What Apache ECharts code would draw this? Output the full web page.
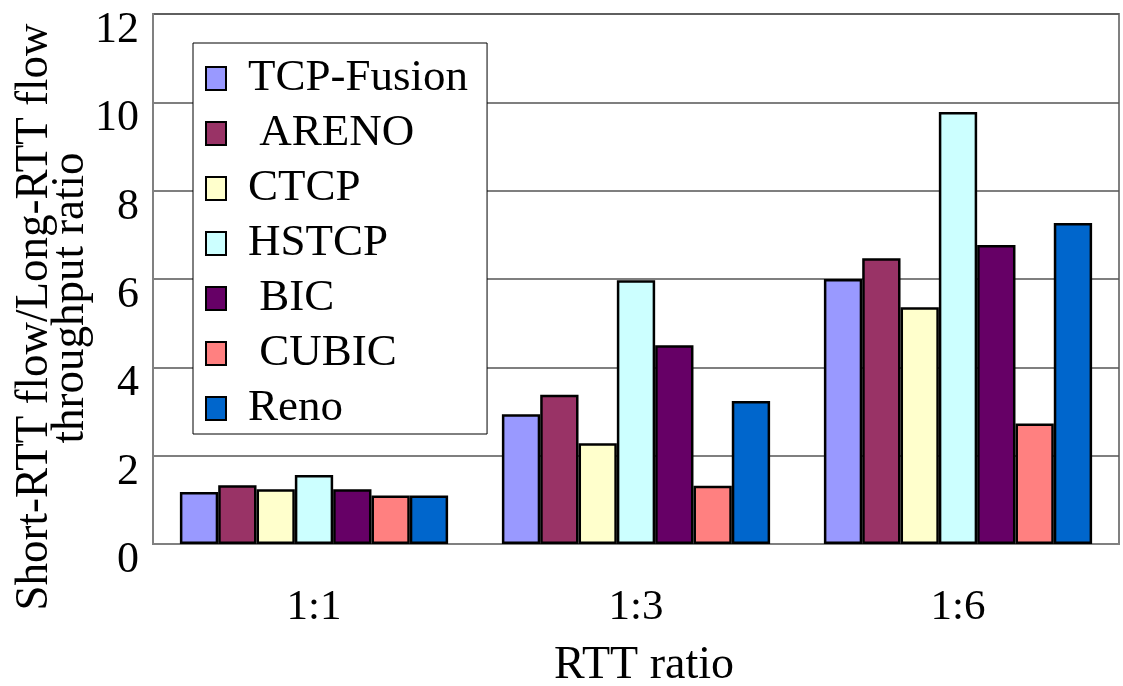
<!DOCTYPE html>
<html>
<head>
<meta charset="utf-8">
<script src="https://cdn.jsdelivr.net/npm/echarts@6/dist/echarts.min.js"></script>
<style>
  html, body { margin: 0; padding: 0; background: #fff; }
  #chart { width: 1123px; height: 686px; }
</style>
</head>
<body>
<div id="chart"></div>
<script>
// RTT ratio groups on the x axis
const categories = ['1:1', '1:3', '1:6'];

// Short-RTT / Long-RTT throughput ratio per congestion control algorithm
const tcpFusion = [1.18, 2.94, 6.00];
const areno     = [1.33, 3.38, 6.47];
const ctcp      = [1.24, 2.28, 5.36];
const hstcp     = [1.56, 5.97, 9.78];
const bic       = [1.24, 4.50, 6.77];
const cubic     = [1.10, 1.32, 2.73];
const reno      = [1.10, 3.24, 7.27];

const seriesNames = ['TCP-Fusion', ' ARENO', 'CTCP', 'HSTCP', ' BIC', ' CUBIC', 'Reno'];
const seriesValues = [tcpFusion, areno, ctcp, hstcp, bic, cubic, reno];
const seriesColors = ['#9999FF', '#993366', '#FFFFCC', '#CCFFFF', '#660066', '#FF8080', '#0066CC'];

const yTicks = [0, 2, 4, 6, 8, 10, 12];

const FONT = 'Liberation Serif';

const chart = echarts.init(document.getElementById('chart'), null, { renderer: 'canvas' });

const series = seriesNames.map((name, i) => ({
  name: name,
  type: 'bar',
  data: seriesValues[i],
  barGap: '0%',
  barCategoryGap: '16.7%',
  itemStyle: { color: seriesColors[i], borderColor: '#000', borderWidth: 2.5 },
  emphasis: { disabled: true }
}));

chart.setOption({
  animation: false,
  backgroundColor: '#fff',
  grid: {
    left: 153, right: 4, top: 14, bottom: 142,
    outerBoundsMode: 'none',
    containLabel: false,
    show: true, borderColor: '#808080', borderWidth: 2, backgroundColor: 'transparent'
  },
  legend: {
    orient: 'vertical',
    left: 193, top: 43,
    data: seriesNames,
    icon: 'rect',
    backgroundColor: '#fff',
    borderColor: '#000', borderWidth: 1,
    padding: [13, 19, 3, 12],
    itemWidth: 20, itemHeight: 23,
    itemGap: 10,
    textStyle: {
      fontFamily: FONT, fontSize: 45, color: '#000', lineHeight: 45,
      padding: [0, 0, 0, 17]
    }
  },
  xAxis: {
    type: 'category',
    data: categories,
    name: 'RTT ratio',
    nameLocation: 'middle',
    nameGap: 99,
    nameTextStyle: { fontFamily: FONT, fontSize: 46, color: '#000', padding: [0, 0, 0, 16] },
    axisLine: { lineStyle: { color: '#808080', width: 2 } },
    axisTick: { inside: true, length: 11, lineStyle: { color: '#808080', width: 2 } },
    axisLabel: { fontFamily: FONT, fontSize: 43, color: '#000', margin: 42 }
  },
  yAxis: {
    type: 'value',
    min: yTicks[0], max: yTicks[yTicks.length - 1], interval: 2,
    axisLine: { show: true, lineStyle: { color: '#808080', width: 2 } },
    axisTick: { show: false },
    splitLine: { lineStyle: { color: '#555', width: 1.5 } },
    axisLabel: {
      fontFamily: FONT, fontSize: 44, color: '#000', margin: 14,
      verticalAlign: 'top', lineHeight: 33
    }
  },
  graphic: [
    {
      type: 'text',
      x: 35, y: 317,
      rotation: Math.PI / 2,
      scaleY: 1.02,
      style: {
        text: 'Short-RTT flow/Long-RTT flow',
        fontFamily: FONT, fontSize: 45, fill: '#000',
        textAlign: 'center', textVerticalAlign: 'middle'
      }
    },
    {
      type: 'text',
      x: 71, y: 298,
      rotation: Math.PI / 2,
      scaleY: 1.02,
      style: {
        text: 'throughput ratio',
        fontFamily: FONT, fontSize: 45, fill: '#000',
        textAlign: 'center', textVerticalAlign: 'middle'
      }
    }
  ],
  series: series
});
</script>
</body>
</html>
